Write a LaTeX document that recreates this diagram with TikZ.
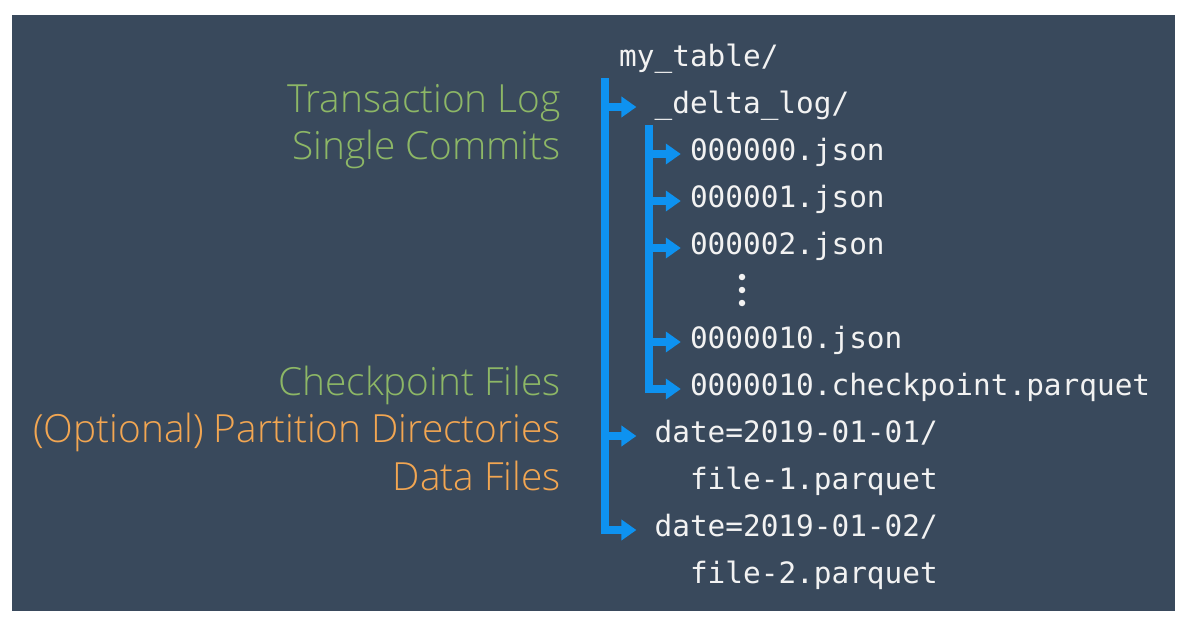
\documentclass[tikz,border=0pt]{standalone}
\usepackage{fontspec}
\IfFontExistsTF{Open Sans Light}{\newfontfamily\lblfont{Open Sans Light}}{\newfontfamily\lblfont{Open Sans}}
\newfontfamily\filefont{DejaVu Sans Mono}
\usetikzlibrary{arrows.meta}
\definecolor{bg}{RGB}{57,73,92}
\definecolor{treeblue}{RGB}{14,146,240}
\definecolor{lblgreen}{RGB}{141,183,102}
\definecolor{lblorange}{RGB}{242,166,82}
\definecolor{filetext}{RGB}{242,242,242}
\begin{document}
\begin{tikzpicture}[x=1pt,y=-1pt,
  file/.style={font=\filefont\fontsize{29.4pt}{35pt}\selectfont, text=filetext,
    inner sep=0pt, text height=18pt, text depth=6pt, anchor=base west},
  lbl/.style={font=\lblfont\fontsize{38.8pt}{46pt}\selectfont, inner sep=0pt, anchor=base east},
  green/.style={lbl, text=lblgreen},
  orange/.style={lbl, text=lblorange},
  arm/.style={draw=treeblue, line width=8pt, -{Triangle[length=15pt,width=20pt]}},
  dot/.style={circle, fill=filetext, inner sep=0pt, minimum size=6.5pt}
]
\useasboundingbox (0,0) rectangle (1189,621);
\fill[white] (0,0) rectangle (1189,621);
\fill[bg] (12,15) rectangle (1175,611);

% file tree
\node[file] (root) at (619,66)    {my\_table/};
\node[file] (dl)   at (654.4,113) {\_delta\_log/};
\node[file] (j0)   at (689.8,160) {000000.json};
\node[file] (j1)   at (689.8,207) {000001.json};
\node[file] (j2)   at (689.8,254) {000002.json};
\node[dot]  (v1)   at (742,277) {};
\node[dot]  (v2)   at (742,290) {};
\node[dot]  (v3)   at (742,303) {};
\node[file] (j10)  at (689.8,348) {0000010.json};
\node[file] (cp)   at (689.8,395) {0000010.checkpoint.parquet};
\node[file] (d1)   at (654.4,442) {date=2019-01-01/};
\node[file] (f1)   at (689.8,489) {file-1.parquet};
\node[file] (d2)   at (654.4,536) {date=2019-01-02/};
\node[file] (f2)   at (689.8,583) {file-2.parquet};

% connectors
\coordinate (ot) at (605,78);
\coordinate (it) at (649,125);
\draw[arm] (ot) |- ([xshift=-18pt]dl.west);
\draw[arm] (ot) |- ([xshift=-18pt]d1.west);
\draw[arm] (ot) |- ([xshift=-18pt]d2.west);
\draw[arm] (it) |- ([xshift=-9pt]j0.west);
\draw[arm] (it) |- ([xshift=-9pt]j1.west);
\draw[arm] (it) |- ([xshift=-9pt]j2.west);
\draw[arm] (it) |- ([xshift=-9pt]j10.west);
\draw[arm] (it) |- ([xshift=-9pt]cp.west);

% labels
\node[green]  (tl) at (561,112) {Transaction Log};
\node[green]  (sc) at (561,159) {Single Commits};
\node[green]  (cf) at (561,395) {Checkpoint Files};
\node[orange] (pd) at (561,442) {(Optional) Partition Directories};
\node[orange] (df) at (561,490) {Data Files};
\end{tikzpicture}
\end{document}
